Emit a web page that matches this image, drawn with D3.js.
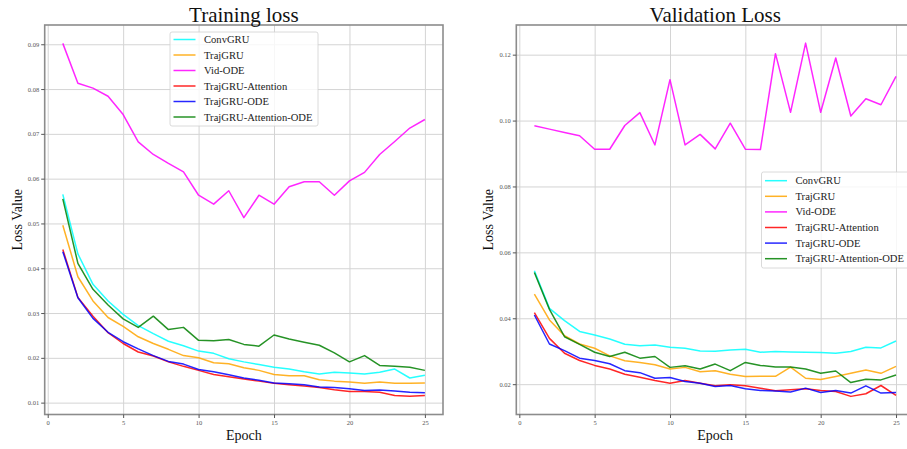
<!DOCTYPE html>
<html lang="en">
<head>
<meta charset="UTF-8">
<title>Training and Validation Loss</title>
<script src="https://cdn.jsdelivr.net/npm/d3@7"></script>
<style>
    body { margin: 0; background: #fff; }
    svg { display: block; font-family: "Liberation Serif", "Times New Roman", serif; }
</style>
</head>
<body>
<svg id="chart" width="907" height="449"></svg>
<script>
const epochs = [1,2,3,4,5,6,7,8,9,10,11,12,13,14,15,16,17,18,19,20,21,22,23,24,25];
const modelNames = ["ConvGRU", "TrajGRU", "Vid-ODE", "TrajGRU-Attention", "TrajGRU-ODE", "TrajGRU-Attention-ODE"];

// training loss per model
const trainConvGRU = [0.0565,0.0432,0.0364,0.0327,0.0297,0.0272,0.0254,0.0237,0.0227,0.0215,0.0210,0.0198,0.0191,0.0185,0.0179,0.0175,0.0169,0.0164,0.0168,0.0166,0.0164,0.0168,0.0175,0.0155,0.0161];
const trainTrajGRU = [0.0496,0.0381,0.0327,0.0290,0.0270,0.0247,0.0232,0.0219,0.0205,0.0200,0.0189,0.0187,0.0178,0.0172,0.0163,0.0160,0.0160,0.0151,0.0148,0.0146,0.0143,0.0146,0.0143,0.0143,0.0144];
const trainVidODE = [0.0902,0.0813,0.0802,0.0784,0.0743,0.0682,0.0654,0.0634,0.0615,0.0563,0.0543,0.0573,0.0513,0.0563,0.0543,0.0582,0.0593,0.0593,0.0563,0.0595,0.0614,0.0654,0.0683,0.0713,0.0732];
const trainAttention = [0.0442,0.0335,0.0293,0.0256,0.0232,0.0213,0.0204,0.0191,0.0181,0.0172,0.0163,0.0158,0.0153,0.0148,0.0143,0.0140,0.0137,0.0134,0.0129,0.0125,0.0125,0.0123,0.0116,0.0114,0.0116];
const trainODE = [0.0437,0.0334,0.0288,0.0257,0.0236,0.0220,0.0205,0.0192,0.0186,0.0174,0.0169,0.0162,0.0155,0.0150,0.0144,0.0142,0.0140,0.0135,0.0134,0.0131,0.0127,0.0128,0.0126,0.0123,0.0122];
const trainAttentionODE = [0.0555,0.0411,0.0353,0.0318,0.0287,0.0268,0.0293,0.0263,0.0268,0.0239,0.0238,0.0241,0.0230,0.0226,0.0251,0.0242,0.0235,0.0228,0.0211,0.0191,0.0205,0.0183,0.0181,0.0179,0.0172];

// validation loss per model
const valConvGRU = [0.0544,0.0430,0.0393,0.0360,0.0349,0.0337,0.0321,0.0317,0.0319,0.0312,0.0309,0.0301,0.0300,0.0304,0.0306,0.0297,0.0299,0.0298,0.0297,0.0296,0.0294,0.0299,0.0312,0.0310,0.0331];
const valTrajGRU = [0.0473,0.0395,0.0347,0.0322,0.0309,0.0286,0.0271,0.0266,0.0259,0.0246,0.0251,0.0238,0.0241,0.0230,0.0223,0.0224,0.0224,0.0252,0.0218,0.0214,0.0223,0.0233,0.0243,0.0233,0.0254];
const valVidODE = [0.0984,0.0974,0.0964,0.0954,0.0913,0.0913,0.0985,0.1024,0.0926,0.1124,0.0926,0.0958,0.0914,0.0992,0.0913,0.0912,0.1203,0.1025,0.1235,0.1025,0.1190,0.1014,0.1066,0.1048,0.1134];
const valAttention = [0.0417,0.0339,0.0294,0.0272,0.0257,0.0246,0.0230,0.0221,0.0211,0.0203,0.0211,0.0203,0.0195,0.0198,0.0195,0.0188,0.0180,0.0183,0.0186,0.0181,0.0178,0.0163,0.0171,0.0196,0.0166];
const valODE = [0.0410,0.0322,0.0302,0.0279,0.0272,0.0262,0.0241,0.0235,0.0218,0.0220,0.0208,0.0203,0.0193,0.0196,0.0186,0.0181,0.0179,0.0176,0.0188,0.0175,0.0181,0.0173,0.0195,0.0173,0.0175];
const valAttentionODE = [0.0539,0.0427,0.0344,0.0321,0.0297,0.0284,0.0297,0.0279,0.0284,0.0251,0.0256,0.0246,0.0261,0.0241,0.0266,0.0257,0.0252,0.0252,0.0246,0.0233,0.0240,0.0205,0.0215,0.0213,0.0228];

const xTicks = [0, 5, 10, 15, 20, 25];
const trainYTicks = [0.01, 0.02, 0.03, 0.04, 0.05, 0.06, 0.07, 0.08, 0.09];
const valYTicks = [0.02, 0.04, 0.06, 0.08, 0.10, 0.12];

const lineColors = ["#00ffff", "#ffa500", "#ff00ff", "#ff0000", "#0000ff", "#008000"];

const svg = d3.select("#chart");
const plotTop = 25, plotBottom = 414.5;

function drawPanel(cfg) {
    const x = d3.scaleLinear().domain([-0.2, 26.2]).range([cfg.left, cfg.right]);
    const y = d3.scaleLinear().domain(cfg.yDomain).range([plotBottom, plotTop]);
    const g = svg.append("g");

    // grid
    g.append("g")
        .attr("transform", "translate(0," + plotBottom + ")")
        .call(d3.axisBottom(x).tickValues(xTicks).tickSize(-(plotBottom - plotTop)).tickFormat(""))
        .call(a => a.select(".domain").remove())
        .selectAll("line").attr("stroke", "#d4d4d4").attr("stroke-width", 1);
    g.append("g")
        .attr("transform", "translate(" + cfg.left + ",0)")
        .call(d3.axisLeft(y).tickValues(cfg.yTicks).tickSize(-(cfg.right - cfg.left)).tickFormat(""))
        .call(a => a.select(".domain").remove())
        .selectAll("line").attr("stroke", "#d4d4d4").attr("stroke-width", 1);

    // series
    const line = d3.line()
        .x((d, i) => x(epochs[i]))
        .y(d => y(d));
    g.append("g")
        .selectAll("path")
        .data(cfg.series)
        .join("path")
        .attr("d", d => line(d))
        .attr("fill", "none")
        .attr("stroke", (d, i) => lineColors[i])
        .attr("stroke-width", 1.5)
        .attr("stroke-opacity", 0.85)
        .attr("stroke-linejoin", "round");

    // spines
    g.append("rect")
        .attr("x", cfg.left).attr("y", plotTop)
        .attr("width", cfg.right - cfg.left).attr("height", plotBottom - plotTop)
        .attr("fill", "none").attr("stroke", "#8c8c8c").attr("stroke-width", 1.6);

    // tick labels
    const xAxis = g.append("g")
        .attr("transform", "translate(0," + plotBottom + ")")
        .call(d3.axisBottom(x).tickValues(xTicks).tickSize(3.5).tickPadding(2).tickFormat(d3.format("d")));
    const yAxis = g.append("g")
        .attr("transform", "translate(" + cfg.left + ",0)")
        .call(d3.axisLeft(y).tickValues(cfg.yTicks).tickSize(3.5).tickPadding(2).tickFormat(d3.format(".2f")));
    [xAxis, yAxis].forEach(a => {
        a.select(".domain").remove();
        a.selectAll("line").attr("stroke", "#555");
        a.selectAll("text").attr("fill", "#555").attr("font-size", 6.5).attr("font-family", "Liberation Serif");
    });

    // titles
    g.append("text")
        .attr("x", (cfg.left + cfg.right) / 2).attr("y", 21.5)
        .attr("text-anchor", "middle").attr("font-size", 21).attr("fill", "#111")
        .text(cfg.title);
    g.append("text")
        .attr("x", (cfg.left + cfg.right) / 2).attr("y", 440)
        .attr("text-anchor", "middle").attr("font-size", 14).attr("fill", "#111")
        .text("Epoch");
    g.append("text")
        .attr("transform", "translate(" + cfg.yLabelX + "," + ((plotTop + plotBottom) / 2) + ") rotate(-90)")
        .attr("text-anchor", "middle").attr("font-size", 14).attr("fill", "#111")
        .text("Loss Value");

    // legend
    const lg = cfg.legend;
    const legend = g.append("g").attr("transform", "translate(" + lg.x + "," + lg.y + ")");
    legend.append("rect")
        .attr("width", lg.w).attr("height", lg.h).attr("rx", 2)
        .attr("fill", "#fff").attr("fill-opacity", 0.8)
        .attr("stroke", "#d0d0d0").attr("stroke-width", 0.8);
    const rows = legend.selectAll("g.row")
        .data(modelNames)
        .join("g")
        .attr("class", "row")
        .attr("transform", (d, i) => "translate(0," + (lg.first + i * lg.step) + ")");
    rows.append("line")
        .attr("x1", 3.5).attr("x2", 25.5)
        .attr("stroke", (d, i) => lineColors[i])
        .attr("stroke-width", 1.5).attr("stroke-opacity", 0.85);
    rows.append("text")
        .attr("x", 34).attr("dy", "0.33em")
        .attr("font-size", 10.6).attr("fill", "#222")
        .text(d => d);
}

drawPanel({
    title: "Training loss",
    left: 44.7, right: 443,
    yDomain: [0.00735, 0.0943],
    yTicks: trainYTicks,
    yLabelX: 22,
    series: [trainConvGRU, trainTrajGRU, trainVidODE, trainAttention, trainODE, trainAttentionODE],
    legend: { x: 170, y: 32, w: 148, h: 94, first: 7.5, step: 15.5 }
});

drawPanel({
    title: "Validation Loss",
    left: 516.3, right: 914.1,
    yDomain: [0.0108, 0.129],
    yTicks: valYTicks,
    yLabelX: 493,
    series: [valConvGRU, valTrajGRU, valVidODE, valAttention, valODE, valAttentionODE],
    legend: { x: 761.5, y: 172, w: 148, h: 96, first: 8.7, step: 15.6 }
});
</script>
</body>
</html>
